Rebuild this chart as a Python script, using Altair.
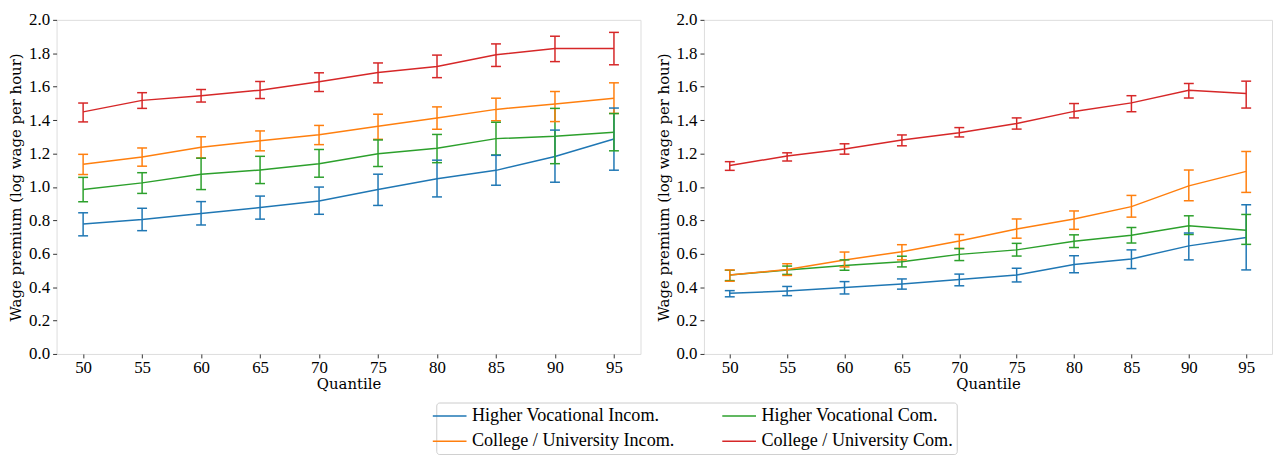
import altair as alt
import pandas as pd

quantiles = [50, 55, 60, 65, 70, 75, 80, 85, 90, 95]
series_names = ["Higher Vocational Incom.", "Higher Vocational Com.",
                "College / University Incom.", "College / University Com."]
series_colors = ["#1f77b4", "#2ca02c", "#ff7f0e", "#d62728"]
y_ticks = [0.0, 0.2, 0.4, 0.6, 0.8, 1.0, 1.2, 1.4, 1.6, 1.8, 2.0]

# Left panel
L_hvi = [0.778, 0.805, 0.841, 0.876, 0.916, 0.984, 1.049, 1.099, 1.182, 1.287]
L_hvi_lo = [0.707, 0.738, 0.772, 0.807, 0.836, 0.889, 0.940, 1.010, 1.028, 1.100]
L_hvi_hi = [0.845, 0.872, 0.912, 0.945, 0.999, 1.076, 1.160, 1.189, 1.340, 1.472]
L_hvc = [0.984, 1.024, 1.076, 1.101, 1.139, 1.199, 1.231, 1.289, 1.303, 1.327]
L_hvc_lo = [0.911, 0.961, 0.984, 1.020, 1.058, 1.122, 1.145, 1.191, 1.139, 1.216]
L_hvc_hi = [1.057, 1.085, 1.172, 1.183, 1.224, 1.281, 1.314, 1.387, 1.470, 1.439]
L_cui = [1.135, 1.179, 1.237, 1.276, 1.312, 1.363, 1.412, 1.464, 1.496, 1.531]
L_cui_lo = [1.074, 1.124, 1.173, 1.216, 1.253, 1.285, 1.345, 1.396, 1.391, 1.440]
L_cui_hi = [1.195, 1.233, 1.300, 1.335, 1.368, 1.435, 1.479, 1.531, 1.571, 1.623]
L_cuc = [1.449, 1.518, 1.545, 1.579, 1.629, 1.685, 1.721, 1.791, 1.829, 1.829]
L_cuc_lo = [1.389, 1.470, 1.508, 1.529, 1.571, 1.623, 1.654, 1.721, 1.750, 1.731]
L_cuc_hi = [1.502, 1.564, 1.583, 1.631, 1.683, 1.742, 1.789, 1.856, 1.902, 1.925]

# Right panel
R_hvi = [0.363, 0.377, 0.398, 0.419, 0.445, 0.472, 0.536, 0.569, 0.647, 0.697]
R_hvi_lo = [0.342, 0.349, 0.359, 0.388, 0.408, 0.431, 0.486, 0.511, 0.563, 0.503]
R_hvi_hi = [0.379, 0.404, 0.433, 0.449, 0.478, 0.513, 0.588, 0.623, 0.724, 0.893]
R_hvc = [0.472, 0.503, 0.530, 0.552, 0.596, 0.623, 0.674, 0.711, 0.767, 0.740]
R_hvc_lo = [0.439, 0.476, 0.501, 0.521, 0.559, 0.586, 0.637, 0.664, 0.715, 0.656]
R_hvc_hi = [0.501, 0.526, 0.563, 0.585, 0.631, 0.662, 0.713, 0.757, 0.827, 0.835]
R_cui = [0.472, 0.505, 0.563, 0.612, 0.676, 0.748, 0.808, 0.882, 1.006, 1.093]
R_cui_lo = [0.435, 0.470, 0.521, 0.563, 0.631, 0.693, 0.746, 0.819, 0.917, 0.967]
R_cui_hi = [0.503, 0.540, 0.610, 0.654, 0.715, 0.808, 0.856, 0.949, 1.101, 1.212]
R_cuc = [1.128, 1.185, 1.227, 1.281, 1.324, 1.379, 1.452, 1.503, 1.578, 1.559]
R_cuc_lo = [1.099, 1.155, 1.196, 1.246, 1.299, 1.346, 1.413, 1.450, 1.532, 1.472]
R_cuc_hi = [1.151, 1.204, 1.258, 1.311, 1.355, 1.413, 1.499, 1.546, 1.619, 1.633]

FONT = "Liberation Serif"
TITLE_FONT = "DejaVu Serif"


def make_df(vals, los, his):
    rows = []
    for name, v, lo, hi in zip(series_names, vals, los, his):
        for q, a, b, c in zip(quantiles, v, lo, hi):
            rows.append({"q": q, "series": name, "value": a, "lo": b, "hi": c})
    return pd.DataFrame(rows)


df_left = make_df([L_hvi, L_hvc, L_cui, L_cuc],
                  [L_hvi_lo, L_hvc_lo, L_cui_lo, L_cuc_lo],
                  [L_hvi_hi, L_hvc_hi, L_cui_hi, L_cuc_hi])
df_right = make_df([R_hvi, R_hvc, R_cui, R_cuc],
                   [R_hvi_lo, R_hvc_lo, R_cui_lo, R_cuc_lo],
                   [R_hvi_hi, R_hvc_hi, R_cui_hi, R_cuc_hi])

legend = alt.Legend(title=None, orient="none", legendX=383, legendY=386,
                    direction="horizontal", columns=2,
                    symbolType="M-2,0L2,0", symbolSize=289, symbolStrokeWidth=1.5,
                    labelFont=FONT, labelFontSize=18.3, labelColor="black",
                    labelOffset=13, columnPadding=44, rowPadding=6.5, padding=4,
                    strokeColor="#cccccc", cornerRadius=3, fillColor="white",
                    labelLimit=400)
color = alt.Color("series:N",
                  scale=alt.Scale(domain=series_names, range=series_colors),
                  legend=legend)

x_axis = alt.Axis(values=quantiles, title="Quantile", grid=False, domain=False,
                  tickSize=4, tickColor="#333333", labelFont=FONT, labelFontSize=17,
                  labelColor="black", titleFont=TITLE_FONT, titleFontSize=15,
                  titleFontWeight="normal", titleColor="black", labelPadding=2,
                  titlePadding=1, labelFlush=False)
y_axis = alt.Axis(values=y_ticks, format=".1f",
                  title="Wage premium (log wage per hour)", grid=False,
                  domain=False, tickSize=4, tickColor="#333333", labelFont=FONT,
                  labelFontSize=17, labelColor="black", titleFont=TITLE_FONT,
                  titleFontSize=15, titleFontWeight="normal", titleColor="black",
                  labelPadding=3, titlePadding=1, labelFlush=False,
                  labelOverlap=False, minExtent=32, maxExtent=32)
x_scale = alt.Scale(domain=[47.75, 97.25], nice=False, zero=False)
y_scale = alt.Scale(domain=[0, 2], nice=False, zero=False)


def panel(df, w, h):
    base = alt.Chart(df)
    xenc = alt.X("q:Q", scale=x_scale, axis=x_axis)
    rule = base.mark_rule(strokeWidth=1.5).encode(
        x=xenc, y=alt.Y("lo:Q", scale=y_scale, axis=y_axis), y2="hi:Q", color=color)
    cap_lo = base.mark_tick(orient="horizontal", size=10, thickness=1.5, opacity=1).encode(
        x=xenc, y=alt.Y("lo:Q", scale=y_scale, axis=y_axis), color=color)
    cap_hi = base.mark_tick(orient="horizontal", size=10, thickness=1.5, opacity=1).encode(
        x=xenc, y=alt.Y("hi:Q", scale=y_scale, axis=y_axis), color=color)
    line = base.mark_line(strokeWidth=1.5).encode(
        x=xenc, y=alt.Y("value:Q", scale=y_scale, axis=y_axis), color=color)
    return alt.layer(line, rule, cap_lo, cap_hi).properties(width=w, height=h)


left = panel(df_left, 589, 337)
right = panel(df_right, 573, 337)

chart = (
    alt.hconcat(left, right, spacing=14)
    .properties(padding=0)
    .configure_view(stroke="#333333", strokeWidth=1)
    .configure(font=FONT)
)

chart.save("out.html", embed_options={"renderer": "svg", "actions": False})
